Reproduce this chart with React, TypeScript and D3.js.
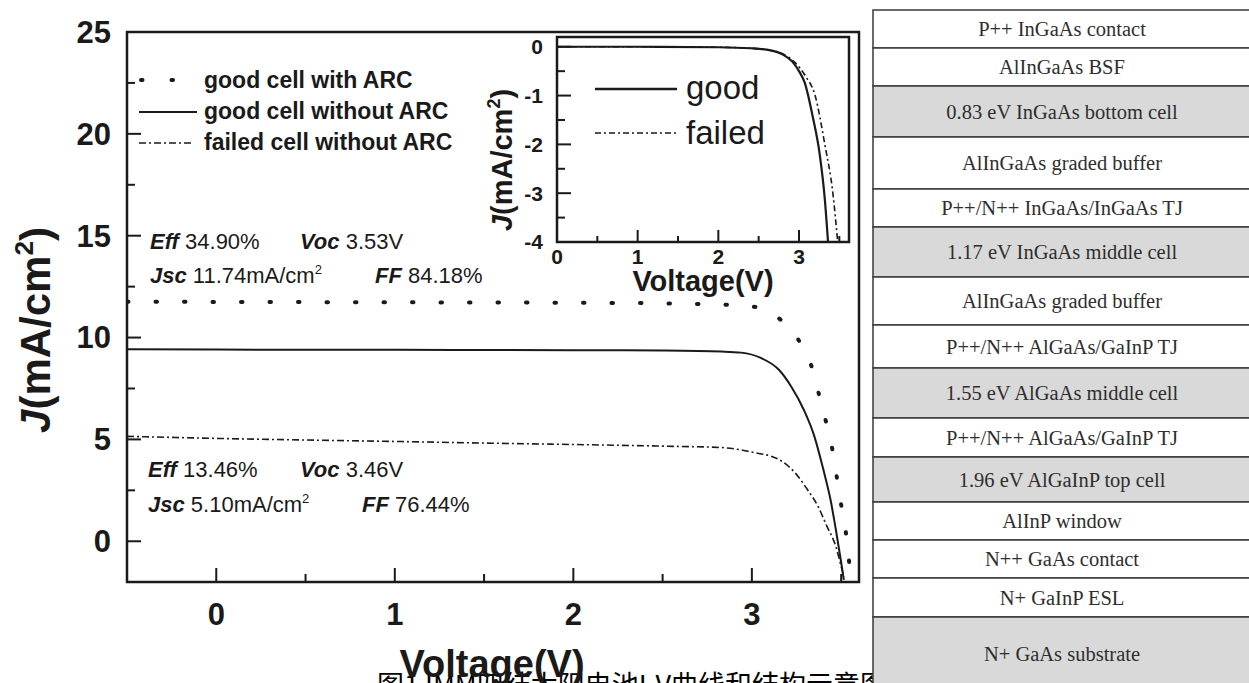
import React from "react";
import * as d3 from "d3";

// ---- Main J-V curves (Voltage V, current density mA/cm2) ----
const arcV = [-0.5, 0, 0.5, 1, 1.5, 2, 2.5, 2.75, 2.88, 3.04, 3.16, 3.27, 3.34, 3.38, 3.42, 3.455, 3.48, 3.505, 3.53, 3.55];
const arcJ = [11.76, 11.75, 11.74, 11.73, 11.72, 11.71, 11.68, 11.64, 11.6, 11.47, 10.88, 9.75, 8.43, 7.06, 5.69, 4.31, 2.9, 1.52, 0.2, -1.5];

const noArcV = [-0.5, 0, 0.5, 1, 1.5, 2, 2.5, 2.83, 2.94, 3.05, 3.15, 3.22, 3.29, 3.35, 3.4, 3.44, 3.47, 3.5, 3.515];
const noArcJ = [9.42, 9.41, 9.4, 9.4, 9.39, 9.38, 9.36, 9.31, 9.26, 9.0, 8.43, 7.6, 6.47, 5.15, 3.53, 2.06, 0.59, -1.03, -1.9];

const failedV = [-0.5, 0, 0.5, 1, 1.5, 2, 2.5, 2.83, 3.01, 3.15, 3.24, 3.31, 3.37, 3.42, 3.47, 3.5, 3.515];
const failedJ = [5.15, 5.05, 4.97, 4.9, 4.82, 4.75, 4.67, 4.6, 4.36, 4.02, 3.38, 2.55, 1.72, 0.74, -0.25, -1.23, -1.75];

// ---- Inset (dark) curves ----
const insetGoodV = [0, 1, 2, 2.4, 2.6, 2.8, 2.92, 3.0, 3.07, 3.17, 3.26, 3.32, 3.36];
const insetGoodJ = [0, 0, -0.01, -0.03, -0.06, -0.16, -0.31, -0.5, -0.73, -1.43, -2.24, -3.12, -4.0];
const insetFailedV = [0, 1, 2, 2.4, 2.6, 2.8, 2.95, 3.08, 3.2, 3.32, 3.42, 3.48];
const insetFailedJ = [0, 0, -0.01, -0.03, -0.06, -0.15, -0.32, -0.6, -1.0, -2.0, -3.0, -4.0];

// ---- Ticks ----
const mainXTicks = [0, 1, 2, 3];
const mainXMinor = [0.5, 1.5, 2.5, 3.5];
const mainYTicks = [0, 5, 10, 15, 20, 25];
const mainYMinor = [2.5, 7.5, 12.5, 17.5, 22.5];
const insetXTicks = [0, 1, 2, 3];
const insetXMinor = [0.5, 1.5, 2.5, 3.5];
const insetYTicks = [0, -1, -2, -3, -4];
const insetYMinor = [-0.5, -1.5, -2.5, -3.5];

// ---- Legend ----
const legendLabels = ["good cell with ARC", "good cell without ARC", "failed cell without ARC"];
const insetLegendLabels = ["good", "failed"];

// ---- Layer structure ----
const layerNames = [
  "P++ InGaAs contact",
  "AlInGaAs BSF",
  "0.83 eV InGaAs bottom cell",
  "AlInGaAs graded buffer",
  "P++/N++ InGaAs/InGaAs TJ",
  "1.17 eV InGaAs middle cell",
  "AlInGaAs graded buffer",
  "P++/N++ AlGaAs/GaInP TJ",
  "1.55 eV AlGaAs middle cell",
  "P++/N++ AlGaAs/GaInP TJ",
  "1.96 eV AlGaInP top cell",
  "AlInP window",
  "N++  GaAs contact",
  "N+  GaInP ESL",
  "N+ GaAs substrate",
];
const layerThickness = [38, 38, 51, 52, 38, 50, 48, 43, 50, 39, 45, 38, 38, 39, 73];
const layerShaded = [false, false, true, false, false, true, false, false, true, false, true, false, false, false, true];

const caption = "图1 IMM四结太阳电池I-V曲线和结构示意图";

const SANS = "'Liberation Sans', Arial, sans-serif";
const SERIF = "'Liberation Serif', 'Times New Roman', serif";
const INK = "#1a1a1a";

export default function App() {
  const W = 1249;
  const H = 683;

  // main plot
  const x = d3.scaleLinear().domain([-0.5, 3.6]).range([127, 859]);
  const y = d3.scaleLinear().domain([-2, 25]).range([582, 32]);
  const mk = (vs: number[], js: number[]) =>
    d3.line<number>().x((_, i) => x(vs[i])).y((_, i) => y(js[i])).curve(d3.curveMonotoneX)(vs) || "";

  // inset
  const ix = d3.scaleLinear().domain([0, 3.62]).range([557, 849]);
  const iy = d3.scaleLinear().domain([-4, 0.2]).range([242, 37]);
  const imk = (vs: number[], js: number[]) =>
    d3.line<number>().x((_, i) => ix(vs[i])).y((_, i) => iy(js[i])).curve(d3.curveMonotoneX)(vs) || "";

  const [x0, x1] = x.range();
  const [yb, yt] = y.range();
  const [ix0, ix1] = ix.range();
  const [iyb, iyt] = iy.range();

  const dotted = { stroke: INK, strokeWidth: 4, strokeDasharray: "1.5 27", strokeLinecap: "round" as const, fill: "none" };
  const solid = { stroke: INK, strokeWidth: 2, fill: "none" };
  const dashdot = { stroke: INK, strokeWidth: 1.6, strokeDasharray: "7 3 2 3", fill: "none" };

  // table
  const tableX0 = 873;
  const tableX1 = 1252;
  const tableTop = 10;
  const rowEdges = d3.cumsum([tableTop, ...layerThickness]);

  const legendY = [80, 112, 143];
  const legendTextY = [88, 119, 150];

  return (
    <svg width={W} height={H} style={{ position: "absolute", left: 0, top: 0, background: "#fff" }}>
      <defs>
        <clipPath id="mainClip">
          <rect x={x0} y={yt} width={x1 - x0} height={yb - yt} />
        </clipPath>
        <clipPath id="insetClip">
          <rect x={ix0} y={iyt} width={ix1 - ix0} height={iyb - iyt} />
        </clipPath>
      </defs>
      <rect x={0} y={0} width={W} height={H} fill="#fff" />

      {/* caption (partly hidden behind the table and axis title) */}
      <text x={377} y={695} fontFamily="'Noto Sans CJK SC', sans-serif" fontSize={27} fill="#000">
        {caption}
      </text>

      {/* ===== Main plot ===== */}
      <g clipPath="url(#mainClip)">
        <path d={mk(arcV, arcJ)} {...dotted} />
        <path d={mk(noArcV, noArcJ)} {...solid} />
        <path d={mk(failedV, failedJ)} {...dashdot} />
      </g>
      {mainXTicks.map((t) => (
        <line key={"mx" + t} x1={x(t)} x2={x(t)} y1={yb} y2={yb - 14} stroke={INK} strokeWidth={2} />
      ))}
      {mainXMinor.map((t) => (
        <line key={"mxm" + t} x1={x(t)} x2={x(t)} y1={yb} y2={yb - 8} stroke={INK} strokeWidth={2} />
      ))}
      {mainYTicks.map((t) => (
        <line key={"my" + t} x1={x0} x2={x0 + 14} y1={y(t)} y2={y(t)} stroke={INK} strokeWidth={2} />
      ))}
      {mainYMinor.map((t) => (
        <line key={"mym" + t} x1={x0} x2={x0 + 8} y1={y(t)} y2={y(t)} stroke={INK} strokeWidth={2} />
      ))}
      <rect x={x0} y={yt} width={x1 - x0} height={yb - yt} fill="none" stroke={INK} strokeWidth={2.5} />
      {mainXTicks.map((t) => (
        <text key={"mxl" + t} x={x(t)} y={625} textAnchor="middle" fontFamily={SANS} fontWeight="bold" fontSize={31} fill={INK}>
          {t}
        </text>
      ))}
      {mainYTicks.map((t) => (
        <text key={"myl" + t} x={111} y={y(t)} dy="0.35em" textAnchor="end" fontFamily={SANS} fontWeight="bold" fontSize={31} fill={INK}>
          {t}
        </text>
      ))}
      <text x={492} y={677} textAnchor="middle" fontFamily={SANS} fontWeight="bold" fontSize={38} fill={INK}>
        Voltage(V)
      </text>
      <text transform="translate(50,330) rotate(-90)" textAnchor="middle" fontFamily={SANS} fontWeight="bold" fontSize={42} fill={INK}>
        <tspan fontStyle="italic">J</tspan>(mA/cm<tspan fontSize={26} dy={-17}>2</tspan>
        <tspan dy={17}>)</tspan>
      </text>

      {/* legend */}
      <line x1={141} x2={195} y1={legendY[0]} y2={legendY[0]} {...dotted} strokeDasharray="1.5 29" />
      <line x1={139} x2={197} y1={legendY[1]} y2={legendY[1]} {...solid} />
      <line x1={139} x2={194} y1={legendY[2]} y2={legendY[2]} {...dashdot} />
      {legendLabels.map((l, i) => (
        <text key={l} x={204} y={legendTextY[i]} fontFamily={SANS} fontWeight="bold" fontSize={23} fill={INK}>
          {l}
        </text>
      ))}

      {/* annotations */}
      <g fontFamily={SANS} fontSize={22} fill={INK}>
        <text x={150} y={249}>
          <tspan fontWeight="bold" fontStyle="italic">Eff</tspan> 34.90%
        </text>
        <text x={300} y={249}>
          <tspan fontWeight="bold" fontStyle="italic">Voc</tspan> 3.53V
        </text>
        <text x={150} y={283}>
          <tspan fontWeight="bold" fontStyle="italic">Jsc</tspan> 11.74mA/cm<tspan fontSize={13} dy={-9}>2</tspan>
        </text>
        <text x={375} y={283}>
          <tspan fontWeight="bold" fontStyle="italic">FF</tspan> 84.18%
        </text>
        <text x={148} y={477}>
          <tspan fontWeight="bold" fontStyle="italic">Eff</tspan> 13.46%
        </text>
        <text x={300} y={477}>
          <tspan fontWeight="bold" fontStyle="italic">Voc</tspan> 3.46V
        </text>
        <text x={148} y={512}>
          <tspan fontWeight="bold" fontStyle="italic">Jsc</tspan> 5.10mA/cm<tspan fontSize={13} dy={-9}>2</tspan>
        </text>
        <text x={362} y={512}>
          <tspan fontWeight="bold" fontStyle="italic">FF</tspan> 76.44%
        </text>
      </g>

      {/* ===== Inset ===== */}
      <rect x={ix0} y={iyt} width={ix1 - ix0} height={iyb - iyt} fill="#fff" />
      <g clipPath="url(#insetClip)">
        <path d={imk(insetGoodV, insetGoodJ)} stroke={INK} strokeWidth={2.2} fill="none" />
        <path d={imk(insetFailedV, insetFailedJ)} stroke={INK} strokeWidth={1.6} strokeDasharray="6 3 2 3" fill="none" />
      </g>
      {insetXTicks.slice(1).map((t) => (
        <line key={"ix" + t} x1={ix(t)} x2={ix(t)} y1={iyb} y2={iyb - 12} stroke={INK} strokeWidth={2} />
      ))}
      {insetXMinor.map((t) => (
        <line key={"ixm" + t} x1={ix(t)} x2={ix(t)} y1={iyb} y2={iyb - 6} stroke={INK} strokeWidth={2} />
      ))}
      {insetYTicks.map((t) => (
        <line key={"iy" + t} x1={ix0} x2={ix0 + 14} y1={iy(t)} y2={iy(t)} stroke={INK} strokeWidth={2} />
      ))}
      {insetYMinor.map((t) => (
        <line key={"iym" + t} x1={ix0} x2={ix0 + 8} y1={iy(t)} y2={iy(t)} stroke={INK} strokeWidth={2} />
      ))}
      <rect x={ix0} y={iyt} width={ix1 - ix0} height={iyb - iyt} fill="none" stroke={INK} strokeWidth={2.5} />
      {insetXTicks.map((t) => (
        <text key={"ixl" + t} x={ix(t)} y={264} textAnchor="middle" fontFamily={SANS} fontWeight="bold" fontSize={21} fill={INK}>
          {t}
        </text>
      ))}
      {insetYTicks.map((t) => (
        <text key={"iyl" + t} x={543} y={iy(t)} dy="0.35em" textAnchor="end" fontFamily={SANS} fontWeight="bold" fontSize={21} fill={INK}>
          {t}
        </text>
      ))}
      <text x={703} y={291} textAnchor="middle" fontFamily={SANS} fontWeight="bold" fontSize={29} fill={INK}>
        Voltage(V)
      </text>
      <text transform="translate(512,160) rotate(-90)" textAnchor="middle" fontFamily={SANS} fontWeight="bold" fontSize={29} fill={INK}>
        <tspan fontStyle="italic">J</tspan>(mA/cm<tspan fontSize={18} dy={-12}>2</tspan>
        <tspan dy={12}>)</tspan>
      </text>
      <line x1={595} x2={677} y1={89} y2={89} stroke={INK} strokeWidth={2.5} />
      <line x1={595} x2={677} y1={133} y2={133} stroke={INK} strokeWidth={1.6} strokeDasharray="6 3 2 3" />
      <text x={686} y={99} fontFamily={SANS} fontSize={33} fill={INK}>
        {insetLegendLabels[0]}
      </text>
      <text x={686} y={144} fontFamily={SANS} fontSize={33} fill={INK}>
        {insetLegendLabels[1]}
      </text>

      {/* ===== Layer structure table ===== */}
      {layerNames.map((name, i) => {
        const top = rowEdges[i];
        const bot = rowEdges[i + 1];
        return (
          <g key={"row" + i}>
            <rect x={tableX0} y={top} width={tableX1 - tableX0} height={bot - top} fill={layerShaded[i] ? "#d9d9d9" : "#fff"} stroke="#3a3a3a" strokeWidth={1.5} />
            <text x={1062} y={(top + bot) / 2} dy="0.35em" textAnchor="middle" fontFamily={SERIF} fontSize={20.5} fill="#2e2e2e">
              {name}
            </text>
          </g>
        );
      })}
    </svg>
  );
}
